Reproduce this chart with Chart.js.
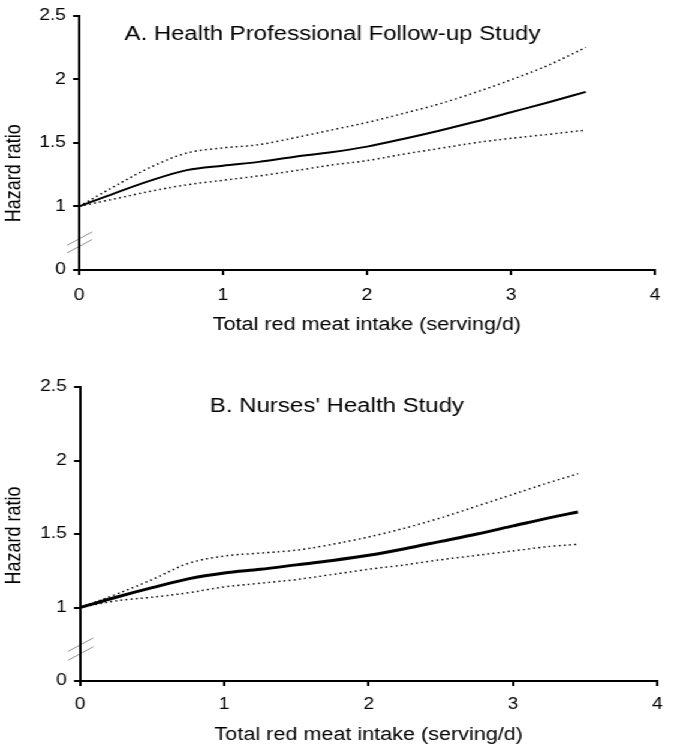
<!DOCTYPE html>
<html>
<head>
<meta charset="utf-8">
<script src="https://cdn.jsdelivr.net/npm/chart.js@4.4.1/dist/chart.umd.min.js"></script>
<style>
  html, body { margin: 0; padding: 0; background: #fff; }
  /* the original figure is stretched sideways, so the canvases are too */
  #wrap { width: 562px; transform: scaleX(1.1993); transform-origin: 0 0; }
  canvas { display: block; }
</style>
</head>
<body>
<div id="wrap">
  <canvas id="chartA" width="562" height="345"></canvas>
  <canvas id="chartB" width="562" height="405"></canvas>
</div>
<script>
// x: total red meat intake (serving/d), y: hazard ratio
const xTicks = [0, 1, 2, 3, 4];
const yTicks = [0.5, 1, 1.5, 2, 2.5];          // 0.5 sits where the broken axis shows "0"
const yTickLabels = ['0', '1', '1.5', '2', '2.5'];
const breakValues = [0.745, 0.685];

// A. Health Professional Follow-up Study
const hpfsIntake = [0, 0.25, 0.5, 0.75, 1, 1.25, 1.5, 1.75, 2, 2.25, 2.5, 2.75, 3, 3.25, 3.52];
const hpfsHR     = [1.00, 1.105, 1.205, 1.285, 1.32, 1.35, 1.39, 1.425, 1.47, 1.53, 1.595, 1.665, 1.74, 1.815, 1.90];
const hpfsUpper  = [1.00, 1.16, 1.31, 1.42, 1.46, 1.485, 1.54, 1.60, 1.66, 1.73, 1.805, 1.895, 1.995, 2.105, 2.25];
const hpfsLower  = [1.00, 1.06, 1.12, 1.17, 1.205, 1.24, 1.28, 1.325, 1.36, 1.41, 1.455, 1.50, 1.535, 1.565, 1.60];

// B. Nurses' Health Study
const nhsIntake = [0, 0.25, 0.5, 0.75, 1, 1.25, 1.5, 1.75, 2, 2.25, 2.5, 2.75, 3, 3.25, 3.45];
const nhsHR     = [1.00, 1.07, 1.135, 1.195, 1.235, 1.26, 1.29, 1.32, 1.355, 1.40, 1.45, 1.50, 1.555, 1.61, 1.65];
const nhsUpper  = [1.00, 1.09, 1.19, 1.30, 1.35, 1.37, 1.39, 1.43, 1.48, 1.54, 1.61, 1.69, 1.77, 1.85, 1.91];
const nhsLower  = [1.00, 1.045, 1.07, 1.10, 1.14, 1.165, 1.19, 1.225, 1.26, 1.29, 1.325, 1.355, 1.385, 1.415, 1.43];

const FONT = '"Liberation Sans", Arial, sans-serif';

function pts(xs, ys) {
    return xs.map((x, i) => ({ x: x, y: ys[i] }));
}

// break marks, panel label and the y title
const panelDecor = {
    id: 'panelDecor',
    beforeDraw(chart) {
        const { ctx, scales: { x, y } } = chart;
        const x0 = x.getPixelForValue(0);
        ctx.save();
        ctx.strokeStyle = '#909090';
        ctx.lineWidth = 1;
        breakValues.forEach(v => {
            const py = y.getPixelForValue(v);
            ctx.beginPath();
            ctx.moveTo(x0 - 10, py + 6.5);
            ctx.lineTo(x0 + 11, py - 7);
            ctx.stroke();
        });
        ctx.restore();
    },
    afterDraw(chart, args, opts) {
        const { ctx, scales: { x, y } } = chart;
        ctx.save();
        ctx.fillStyle = '#000';
        ctx.textAlign = 'center';
        ctx.textBaseline = 'middle';
        ctx.font = '20px ' + FONT;
        ctx.fillText(opts.title, x.getPixelForValue(opts.titleAt[0]), y.getPixelForValue(opts.titleAt[1]));
        ctx.translate(y.left + 12.5, y.getPixelForValue(opts.yTitleAt));
        ctx.rotate(-Math.PI / 2);
        ctx.font = '18px ' + FONT;
        ctx.fillText('Hazard ratio', 0, 0);
        ctx.restore();
    }
};

function makeChart(id, intake, hr, upper, lower, o) {
    const dotted = {
        borderColor: '#000',
        borderWidth: 1.5,
        borderDash: [1.5, 2.8],
        pointRadius: 0,
        cubicInterpolationMode: 'monotone'
    };
    return new Chart(document.getElementById(id), {
        type: 'line',
        data: {
            datasets: [
                { data: pts(intake, hr), borderColor: '#000', borderWidth: o.lineWidth, pointRadius: 0, cubicInterpolationMode: 'monotone' },
                Object.assign({ data: pts(intake, upper) }, dotted),
                Object.assign({ data: pts(intake, lower) }, dotted)
            ]
        },
        options: {
            responsive: false,
            animation: false,
            layout: { padding: { top: o.top, right: o.right, bottom: o.bottom, left: 0 } },
            plugins: {
                legend: { display: false },
                tooltip: { enabled: false },
                panelDecor: { title: o.title, titleAt: o.titleAt, yTitleAt: o.yTitleAt }
            },
            scales: {
                x: {
                    type: 'linear',
                    min: 0, max: 4,
                    afterBuildTicks: s => { s.ticks = xTicks.map(v => ({ value: v })); },
                    afterFit: s => { s.height = o.xHeight; },
                    grid: { drawOnChartArea: false, tickLength: 5, color: '#000', lineWidth: 2 },
                    border: { color: '#000', width: 2 },
                    ticks: { color: '#000', padding: o.xPad, font: { family: FONT, size: 16 } },
                    title: {
                        display: true,
                        text: 'Total red meat intake (serving/d)',
                        color: '#000',
                        padding: 0,
                        font: { family: FONT, size: 18 }
                    }
                },
                y: {
                    min: 0.5, max: 2.5,
                    afterBuildTicks: s => { s.ticks = yTicks.map(v => ({ value: v })); },
                    afterFit: s => { s.width = o.leftWidth; },
                    grid: { drawOnChartArea: false, tickLength: 5, color: '#000', lineWidth: 2 },
                    border: { color: '#000', width: 2 },
                    ticks: {
                        color: '#000',
                        padding: 6,
                        font: { family: FONT, size: 16 },
                        callback: v => yTickLabels[yTicks.indexOf(v)]
                    }
                }
            }
        },
        plugins: [panelDecor]
    });
}

makeChart('chartA', hpfsIntake, hpfsHR, hpfsUpper, hpfsLower, {
    title: 'A. Health Professional Follow-up Study',
    titleAt: [1.76, 2.35], yTitleAt: 1.26,
    lineWidth: 2,
    top: 12, right: 9.2, bottom: 9.2, xHeight: 65.8, leftWidth: 65.9, xPad: 11.4
});

makeChart('chartB', nhsIntake, nhsHR, nhsUpper, nhsLower, {
    title: "B. Nurses' Health Study",
    titleAt: [1.78, 2.37], yTitleAt: 1.49,
    lineWidth: 3,
    top: 42, right: 7.5, bottom: 4.2, xHeight: 64.8, leftWidth: 66.7, xPad: 9.4
});
</script>
</body>
</html>
